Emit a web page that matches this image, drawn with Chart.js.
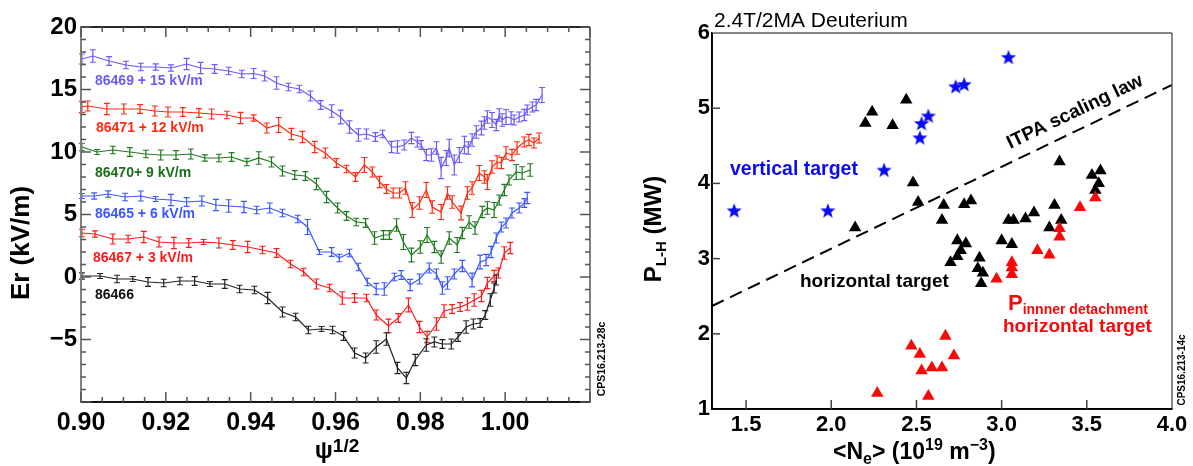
<!DOCTYPE html>
<html>
<head>
<meta charset="utf-8">
<script src="https://cdn.jsdelivr.net/npm/chart.js@4.4.1/dist/chart.umd.min.js"></script>
<style>
  body { margin: 0; background: #fff; width: 1193px; height: 466px; overflow: hidden; position: relative; }
  canvas { position: absolute; top: 0; }
  #left { left: 0; }
  #right { left: 610px; }
</style>
</head>
<body>
<canvas id="left" width="610" height="466"></canvas>
<canvas id="right" width="583" height="466"></canvas>
<script>
// ---- left panel: Er profiles (offset shots) ----
const psi_86469 = [0.9002,0.9028,0.9066,0.9106,0.9141,0.9176,0.9212,0.9249,0.9282,0.9315,0.9348,0.9379,0.9407,0.9433,0.9461,0.9489,0.9515,0.9541,0.9565,0.9591,
  0.9612,0.9633,0.9654,0.9673,0.9694,0.9711,0.9732,0.9746,0.9762,0.9779,0.9793,0.9802,0.9814,0.9826,0.9838,0.9849,0.9861,0.9868,0.9880,0.9892,
  0.9904,0.9913,0.9922,0.9932,0.9944,0.9951,0.9958,0.9969,0.9979,0.9986,0.9993,1.0002,1.0014,1.0021,1.0033,1.0045,1.0052,1.0064,1.0073,1.0087];
const er_86469 = [17.44,17.68,17.28,16.96,16.80,16.80,16.72,17.04,16.72,16.64,16.48,16.24,16.28,16.08,15.52,15.20,15.04,14.48,13.76,13.28,
  12.80,12.00,11.36,11.44,11.20,11.44,10.40,10.40,10.56,11.12,10.80,10.56,9.76,9.76,10.32,8.72,9.52,10.32,8.96,9.76,
  10.56,10.32,10.96,11.60,11.92,12.32,12.80,12.56,12.16,12.96,12.56,12.80,12.72,12.56,12.80,12.96,13.36,13.60,13.76,14.56];
const err_86469 = [0.4,0.5,0.35,0.3,0.3,0.25,0.25,0.45,0.45,0.35,0.3,0.3,0.4,0.4,0.5,0.3,0.3,0.4,0.35,0.5,
  0.55,0.5,0.5,0.4,0.35,0.3,0.45,0.5,0.4,0.45,0.4,0.35,0.45,0.5,0.5,0.85,0.6,0.7,0.8,0.6,
  0.7,0.5,0.5,0.5,0.55,0.5,0.5,0.6,0.45,0.5,0.5,0.6,0.5,0.4,0.4,0.45,0.4,0.4,0.45,0.6];

const psi_86471 = [0.9002,0.9016,0.9061,0.9101,0.9139,0.9174,0.9205,0.9240,0.9278,0.9308,0.9344,0.9376,0.9407,0.9438,0.9466,0.9496,0.9522,0.9551,0.9576,0.9602,
  0.9626,0.9647,0.9668,0.9687,0.9704,0.9720,0.9736,0.9751,0.9765,0.9781,0.9798,0.9814,0.9828,0.9849,0.9864,0.9875,0.9896,0.9911,0.9922,0.9939,
  0.9951,0.9958,0.9969,0.9981,0.9991,1.0002,1.0016,1.0028,1.0045,1.0056,1.0068,1.0080];
const er_86471 = [13.60,13.68,13.44,13.44,13.44,13.28,13.20,13.20,13.12,13.04,12.96,12.72,12.72,11.92,12.16,11.44,11.20,10.40,9.92,9.12,
  8.64,8.00,8.96,8.40,7.60,7.04,6.72,6.72,7.12,5.36,5.92,6.96,5.60,5.20,6.72,6.00,5.12,6.72,7.12,8.32,
  8.00,7.60,8.80,9.20,9.12,9.92,9.76,10.32,10.80,10.96,10.72,11.12];
const err_86471 = [0.45,0.4,0.45,0.4,0.35,0.4,0.4,0.35,0.35,0.4,0.3,0.45,0.25,0.4,0.6,0.45,0.45,0.45,0.4,0.35,
  0.3,0.35,0.6,0.4,0.45,0.35,0.4,0.4,0.5,0.6,0.5,0.6,0.5,0.6,0.5,0.5,0.55,0.5,0.5,0.6,
  0.5,0.6,0.5,0.5,0.45,0.5,0.45,0.5,0.4,0.45,0.4,0.4];

const psi_86470 = [0.9002,0.9038,0.9075,0.9115,0.9153,0.9188,0.9224,0.9259,0.9292,0.9325,0.9355,0.9391,0.9419,0.9449,0.9475,0.9504,0.9529,0.9555,0.9579,0.9605,
  0.9626,0.9649,0.9671,0.9692,0.9713,0.9727,0.9744,0.9760,0.9779,0.9800,0.9816,0.9833,0.9849,0.9868,0.9887,0.9899,0.9915,0.9929,0.9946,0.9958,
  0.9974,0.9986,0.9998,1.0009,1.0026,1.0040,1.0059];
const er_86470 = [10.40,10.00,10.16,10.00,9.84,9.76,9.76,9.84,9.52,9.52,9.60,9.20,9.52,9.20,8.48,8.16,8.08,7.44,6.40,5.52,
  4.88,4.40,4.32,3.12,3.36,3.36,4.16,2.80,1.76,2.40,3.36,2.40,1.60,3.12,2.56,3.52,4.40,3.92,5.20,5.52,
  5.36,6.16,6.96,7.76,8.40,8.32,8.56];
const err_86470 = [0.3,0.2,0.3,0.35,0.3,0.4,0.35,0.4,0.25,0.3,0.35,0.3,0.5,0.4,0.4,0.35,0.35,0.45,0.45,0.4,
  0.35,0.3,0.35,0.5,0.35,0.35,0.5,0.6,0.55,0.5,0.6,0.45,0.5,0.5,0.6,0.45,0.5,0.5,0.45,0.5,
  0.6,0.4,0.45,0.4,0.6,0.5,0.5];

const psi_86465 = [0.9002,0.9031,0.9064,0.9104,0.9141,0.9176,0.9212,0.9249,0.9285,0.9318,0.9348,0.9384,0.9414,0.9445,0.9475,0.9511,0.9534,0.9562,0.9591,0.9609,
  0.9633,0.9654,0.9675,0.9696,0.9715,0.9739,0.9755,0.9776,0.9798,0.9821,0.9838,0.9852,0.9864,0.9880,0.9899,0.9922,0.9941,0.9955,0.9967,0.9979,
  0.9991,1.0002,1.0016,1.0033,1.0045,1.0052];
const er_86465 = [6.48,6.48,6.64,6.40,6.48,6.24,6.16,6.00,6.08,5.76,5.68,5.60,5.36,5.52,5.12,4.64,4.00,2.00,2.00,1.52,
  1.92,0.80,-0.40,-0.96,-0.96,0.00,0.16,-0.64,-0.16,0.72,0.24,-0.88,-0.48,0.24,0.88,-0.24,1.20,1.36,2.00,3.12,
  4.00,4.32,5.12,5.52,5.92,6.32];
const err_86465 = [0.2,0.25,0.25,0.3,0.4,0.2,0.45,0.35,0.4,0.45,0.5,0.45,0.3,0.4,0.3,0.3,0.6,0.2,0.35,0.3,
  0.3,0.3,0.3,0.45,0.5,0.3,0.35,0.45,0.4,0.4,0.4,0.5,0.5,0.4,0.45,0.55,0.55,0.45,0.45,0.4,
  0.4,0.4,0.4,0.4,0.35,0.45];

const psi_86467 = [0.9002,0.9033,0.9075,0.9111,0.9148,0.9184,0.9219,0.9254,0.9289,0.9325,0.9358,0.9393,0.9428,0.9461,0.9494,0.9525,0.9555,0.9586,0.9616,0.9645,
  0.9673,0.9696,0.9725,0.9748,0.9772,0.9798,0.9816,0.9838,0.9856,0.9875,0.9894,0.9911,0.9927,0.9944,0.9958,0.9974,0.9984,0.9998,1.0012];
const er_86467 = [3.52,3.44,3.04,3.04,3.20,2.80,2.72,2.72,2.80,2.72,2.56,2.40,2.16,1.92,1.04,0.40,-0.56,-0.88,-1.68,-1.68,
  -1.68,-3.04,-3.92,-3.28,-2.24,-4.00,-4.80,-3.76,-2.72,-2.56,-2.40,-2.16,-1.84,-1.52,-0.48,0.08,0.32,1.92,2.32];
const err_86467 = [0.3,0.25,0.4,0.3,0.45,0.4,0.45,0.35,0.2,0.4,0.35,0.45,0.3,0.35,0.3,0.3,0.4,0.3,0.5,0.35,
  0.3,0.4,0.55,0.35,0.55,0.45,0.45,0.5,0.5,0.35,0.35,0.5,0.5,0.45,0.45,0.45,0.4,0.5,0.45];

const psi_86466 = [0.9002,0.9045,0.9085,0.9122,0.9158,0.9195,0.9233,0.9268,0.9304,0.9339,0.9374,0.9409,0.9440,0.9475,0.9506,0.9536,0.9567,0.9593,0.9619,0.9645,
  0.9671,0.9696,0.9720,0.9746,0.9767,0.9788,0.9814,0.9833,0.9852,0.9873,0.9889,0.9908,0.9925,0.9941,0.9953,0.9965,0.9974,0.9979];
const er_86466 = [0.08,0.08,-0.16,-0.16,-0.40,-0.48,-0.32,-0.32,-0.56,-0.56,-0.96,-1.04,-1.68,-2.80,-3.20,-4.24,-4.16,-4.24,-4.72,-6.08,
  -6.48,-5.60,-4.96,-7.28,-8.08,-6.64,-5.44,-5.20,-5.36,-5.36,-4.80,-4.00,-3.76,-3.68,-3.04,-1.84,-0.88,-0.24];
const err_86466 = [0.25,0.2,0.3,0.2,0.35,0.3,0.3,0.35,0.2,0.35,0.3,0.3,0.45,0.4,0.3,0.3,0.2,0.3,0.35,0.4,
  0.4,0.5,0.5,0.45,0.45,0.45,0.5,0.4,0.35,0.4,0.35,0.5,0.4,0.35,0.35,0.5,0.4,0.4];

const psiTicks = [0.90, 0.92, 0.94, 0.96, 0.98, 1.00];
const erTicks = [-5, 0, 5, 10, 15, 20];

// ---- right panel: L-H power threshold ----
const vertNe = [1.43, 1.98, 2.31, 2.52, 2.53, 2.57, 2.73, 2.78, 3.04];
const vertP  = [3.63, 3.63, 4.17, 4.60, 4.79, 4.89, 5.28, 5.31, 5.67];

const horizNe = [2.14,2.20,2.24,2.36,2.44,2.48,2.51,2.66,2.65,2.78,2.82,2.74,2.79,2.76,2.74,2.70,2.87,2.86,2.89,2.88,
  3.00,3.06,3.04,3.07,3.14,3.19,3.31,3.34,3.35,3.28,3.53,3.58,3.57,3.55];
const horizP  = [3.41,4.80,4.95,4.77,5.11,4.01,3.75,3.71,3.51,3.72,3.77,3.24,3.20,3.11,3.03,2.95,3.01,2.87,2.81,2.67,
  3.24,3.19,3.51,3.51,3.53,3.61,3.71,4.29,3.51,3.41,4.11,4.17,4.00,3.91];

const innerNe = [2.27,2.47,2.52,2.53,2.59,2.65,2.67,2.72,2.57,2.97,3.06,3.06,3.06,3.21,3.28,3.34,3.34,3.46,3.55];
const innerP  = [1.21,1.84,1.73,1.51,1.55,1.55,1.97,1.71,1.17,2.73,2.95,2.88,2.79,3.11,3.05,3.40,3.29,3.68,3.81];

const itpaNe = [1.3, 4.0];
const itpaP  = [2.37, 5.31];

const neTicks = [1.5, 2.0, 2.5, 3.0, 3.5, 4.0];
const pTicks = [1, 2, 3, 4, 5, 6];

const FONT = '"Liberation Sans", Arial, Helvetica, sans-serif';
const pts = (xs, ys) => xs.map((x, i) => ({ x, y: ys[i] }));

// draw a run of text pieces (sub/superscripts) starting at x, baseline y
function richWidth(ctx, parts) {
  let w = 0;
  parts.forEach(p => { ctx.font = p.font; w += ctx.measureText(p.t).width; });
  return w;
}
function drawRich(ctx, parts, x, y, color) {
  ctx.fillStyle = color;
  ctx.textBaseline = 'alphabetic';
  ctx.textAlign = 'left';
  parts.forEach(p => {
    ctx.font = p.font;
    ctx.fillText(p.t, x, y + (p.dy || 0));
    x += ctx.measureText(p.t).width;
  });
}

// thin filled rules (frame lines and tick marks)
function hRule(ctx, x1, x2, y, w, c) {
  ctx.fillStyle = c;
  ctx.fillRect(Math.min(x1, x2), y - w / 2, Math.abs(x2 - x1), w);
}
function vRule(ctx, x, y1, y2, w, c) {
  ctx.fillStyle = c;
  ctx.fillRect(x - w / 2, Math.min(y1, y2), w, Math.abs(y2 - y1));
}

// plot box taken from the scales themselves
function box(chart) {
  const xs = chart.scales.x, ys = chart.scales.y;
  return { left: xs.left, right: xs.right, top: ys.top, bottom: ys.bottom };
}

const errorBars = {
  id: 'errorBars',
  afterDatasetsDraw(chart) {
    const { ctx, scales: { x, y } } = chart;
    ctx.save();
    chart.data.datasets.forEach(ds => {
      if (!ds.errors) return;
      ctx.strokeStyle = ds.borderColor;
      ctx.lineWidth = 1.2;
      ds.data.forEach((p, i) => {
        const e = ds.errors[i];
        const px = x.getPixelForValue(p.x);
        const t = y.getPixelForValue(p.y + e), b = y.getPixelForValue(p.y - e);
        ctx.beginPath();
        ctx.moveTo(px, t); ctx.lineTo(px, b);
        ctx.moveTo(px - 3, t); ctx.lineTo(px + 3, t);
        ctx.moveTo(px - 3, b); ctx.lineTo(px + 3, b);
        ctx.stroke();
      });
    });
    ctx.restore();
  }
};

const leftDecor = {
  id: 'leftDecor',
  afterDatasetsDraw(chart) {
    const { ctx, scales: { x, y } } = chart;
    const a = box(chart);
    ctx.save();
    // frame
    hRule(ctx, a.left, a.right, a.top, 1.8, '#111');
    hRule(ctx, a.left, a.right, a.bottom, 1.8, '#111');
    vRule(ctx, a.left, a.top, a.bottom, 2, '#808080');
    vRule(ctx, a.right, a.top, a.bottom, 2, '#808080');
    // inward ticks
    for (let k = 0; k <= 24; k++) {
      const px = x.getPixelForValue(0.90 + k * 0.005);
      const len = k % 4 === 0 ? 10 : 5;
      vRule(ctx, px, a.bottom, a.bottom - len, 1.5, '#555');
      vRule(ctx, px, a.top, a.top + len, 1.5, '#555');
    }
    for (let v = -10; v <= 20; v++) {
      const py = y.getPixelForValue(v);
      const len = v % 5 === 0 ? 10 : 5;
      hRule(ctx, a.left, a.left + len, py, 1.5, '#555');
      hRule(ctx, a.right, a.right - len, py, 1.5, '#555');
    }
    // shot labels
    ctx.font = 'bold 14px ' + FONT;
    ctx.textBaseline = 'middle';
    ctx.textAlign = 'left';
    [['86469 + 15 kV/m', 95, 81, '#6a5af9'],
     ['86471 + 12 kV/m', 96, 128, '#ff2a10'],
     ['86470+ 9 kV/m', 95, 173, '#1a6e1a'],
     ['86465 + 6 kV/m', 95, 214, '#3a57ff'],
     ['86467 + 3 kV/m', 93, 258, '#ff1a1a'],
     ['86466', 95, 295, '#111']].forEach(([t, lx, ly, c]) => {
      ctx.fillStyle = c; ctx.fillText(t, lx, ly);
    });
    // axis titles
    ctx.save();
    ctx.translate(22, 243);
    ctx.rotate(-Math.PI / 2);
    ctx.font = 'bold 26px ' + FONT;
    ctx.fillStyle = '#000';
    ctx.textAlign = 'center';
    ctx.textBaseline = 'middle';
    ctx.fillText('Er (kV/m)', 0, 0);
    ctx.restore();
    const psiParts = [{ t: 'ψ', font: 'bold 24px ' + FONT }, { t: '1/2', font: 'bold 19px ' + FONT, dy: -6 }];
    const pw = richWidth(ctx, psiParts);
    drawRich(ctx, psiParts, 337 - pw / 2, 458, '#000');
    // figure id
    ctx.save();
    ctx.translate(602, 359);
    ctx.rotate(-Math.PI / 2);
    ctx.font = 'bold 10.5px ' + FONT;
    ctx.fillStyle = '#000';
    ctx.textAlign = 'center';
    ctx.textBaseline = 'middle';
    ctx.fillText('CPS16.213-28c', 0, 0);
    ctx.restore();
    ctx.restore();
  }
};

const leftSeries = [
  { x: psi_86469, y: er_86469, err: err_86469, color: '#6a5af9' },
  { x: psi_86471, y: er_86471, err: err_86471, color: '#ff2a10' },
  { x: psi_86470, y: er_86470, err: err_86470, color: '#1f7a1f' },
  { x: psi_86465, y: er_86465, err: err_86465, color: '#3a57ff' },
  { x: psi_86467, y: er_86467, err: err_86467, color: '#ff1a1a' },
  { x: psi_86466, y: er_86466, err: err_86466, color: '#222222' }
];

new Chart(document.getElementById('left'), {
  type: 'line',
  data: {
    datasets: leftSeries.map(s => ({
      data: pts(s.x, s.y),
      errors: s.err,
      borderColor: s.color,
      borderWidth: 1.2,
      pointRadius: 0,
      tension: 0,
      fill: false
    }))
  },
  options: {
    responsive: false,
    animation: false,
    layout: { padding: { top: 27, right: 20, left: 0, bottom: 0 } },
    plugins: { legend: { display: false }, tooltip: { enabled: false } },
    scales: {
      x: {
        type: 'linear', min: 0.90, max: 1.02,
        afterFit: s => { s.height = 64; },
        afterBuildTicks: s => { s.ticks = psiTicks.map(v => ({ value: v })); },
        grid: { display: false, drawTicks: false },
        border: { display: true, color: '#111', width: 1.5 },
        ticks: { color: '#000', padding: 6, maxRotation: 0, font: { family: FONT, size: 25, weight: 'bold' },
                 callback: v => v.toFixed(2) }
      },
      y: {
        type: 'linear', min: -10, max: 20,
        afterFit: s => { s.width = 81; },
        afterBuildTicks: s => { s.ticks = erTicks.map(v => ({ value: v })); },
        grid: { display: false, drawTicks: false },
        border: { display: true, color: '#808080', width: 2 },
        ticks: { color: '#000', padding: 4, font: { family: FONT, size: 24, weight: 'bold' },
                 callback: v => v < 0 ? '\u2212' + (-v) : String(v) }
      }
    }
  },
  plugins: [errorBars, leftDecor]
});

// ---- right chart ----
function makeStar(r, color) {
  const c = document.createElement('canvas');
  c.width = c.height = 2 * r + 2;
  const g = c.getContext('2d');
  g.fillStyle = color;
  g.beginPath();
  for (let i = 0; i < 10; i++) {
    const rad = i % 2 ? r * 0.42 : r;
    const ang = -Math.PI / 2 + i * Math.PI / 5;
    g.lineTo(r + 1 + rad * Math.cos(ang), r + 1 + rad * Math.sin(ang));
  }
  g.closePath();
  g.fill();
  return c;
}

const rightDecor = {
  id: 'rightDecor',
  afterDatasetsDraw(chart) {
    const { ctx, scales: { x, y } } = chart;
    const a = box(chart);
    ctx.save();
    hRule(ctx, a.left, a.right, a.top, 1.4, '#555');
    vRule(ctx, a.right, a.top, a.bottom, 1.4, '#555');
    vRule(ctx, a.left, a.top, a.bottom, 1.8, '#000');
    hRule(ctx, a.left, a.right, a.bottom, 1.8, '#000');
    neTicks.slice(0, -1).forEach(v => {
      vRule(ctx, x.getPixelForValue(v), a.bottom, a.bottom - 9, 1.5, '#444');
    });
    pTicks.slice(1, -1).forEach(v => {
      hRule(ctx, a.left, a.left + 8, y.getPixelForValue(v), 1.5, '#444');
    });
    // title
    ctx.fillStyle = '#000';
    ctx.font = '21px ' + FONT;
    ctx.textAlign = 'left';
    ctx.textBaseline = 'alphabetic';
    ctx.fillText('2.4T/2MA Deuterium', 104, 27);
    // labels in plot
    ctx.textBaseline = 'middle';
    ctx.font = 'bold 19.5px ' + FONT;
    ctx.fillStyle = '#0a0af5';
    ctx.fillText('vertical target', 120, 170);
    ctx.fillStyle = '#000';
    ctx.font = 'bold 19px ' + FONT;
    ctx.fillText('horizontal target', 190, 282);
    ctx.fillStyle = '#f50a0a';
    ctx.fillText('horizontal target', 393, 327);
    drawRich(ctx, [{ t: 'P', font: 'bold 22px ' + FONT }, { t: 'innner detachment', font: 'bold 14px ' + FONT, dy: 4 }], 398, 310, '#f50a0a');
    // ITPA label
    ctx.save();
    ctx.translate(465, 112);
    ctx.rotate(-25.7 * Math.PI / 180);
    ctx.font = 'bold 19px ' + FONT;
    ctx.fillStyle = '#000';
    ctx.textAlign = 'center';
    ctx.textBaseline = 'middle';
    ctx.fillText('ITPA scaling law', 0, 0);
    ctx.restore();
    // axis titles
    ctx.save();
    ctx.translate(43, 229);
    ctx.rotate(-Math.PI / 2);
    const yParts = [{ t: 'P', font: 'bold 24px ' + FONT }, { t: 'L-H', font: 'bold 15px ' + FONT, dy: 5 }, { t: ' (MW)', font: 'bold 24px ' + FONT }];
    drawRich(ctx, yParts, -richWidth(ctx, yParts) / 2, 8, '#000');
    ctx.restore();
    const xParts = [
      { t: '<N', font: 'bold 23px ' + FONT },
      { t: 'e', font: 'bold 16px ' + FONT, dy: 5 },
      { t: '> (10', font: 'bold 23px ' + FONT },
      { t: '19', font: 'bold 16px ' + FONT, dy: -9 },
      { t: ' m', font: 'bold 23px ' + FONT },
      { t: '\u22123', font: 'bold 16px ' + FONT, dy: -9 },
      { t: ')', font: 'bold 23px ' + FONT }
    ];
    drawRich(ctx, xParts, 223, 459, '#000');
    // figure id
    ctx.save();
    ctx.translate(572, 370);
    ctx.rotate(-Math.PI / 2);
    ctx.font = 'bold 10px ' + FONT;
    ctx.fillStyle = '#000';
    ctx.textAlign = 'center';
    ctx.textBaseline = 'middle';
    ctx.fillText('CPS16.213-14c', 0, 0);
    ctx.restore();
    ctx.restore();
  }
};

new Chart(document.getElementById('right'), {
  type: 'scatter',
  data: {
    datasets: [
      { data: pts(vertNe, vertP), pointStyle: makeStar(8, '#0a0af5'), pointRadius: 8 },
      { data: pts(innerNe, innerP), pointStyle: 'triangle', pointRadius: 7.2, backgroundColor: '#f50a0a', borderColor: '#f50a0a', borderWidth: 0 },
      { data: pts(horizNe, horizP), pointStyle: 'triangle', pointRadius: 7.2, backgroundColor: '#000', borderColor: '#000', borderWidth: 0 },
      { type: 'line', data: pts(itpaNe, itpaP), borderColor: '#000', borderWidth: 2, borderDash: [13, 7], pointRadius: 0, fill: false }
    ]
  },
  options: {
    responsive: false,
    animation: false,
    layout: { padding: { top: 33, right: 21, left: 0, bottom: 0 } },
    plugins: { legend: { display: false }, tooltip: { enabled: false } },
    scales: {
      x: {
        type: 'linear', min: 1.3, max: 4.0,
        afterFit: s => { s.height = 57; },
        afterBuildTicks: s => { s.ticks = neTicks.map(v => ({ value: v })); },
        grid: { display: false, drawTicks: false },
        border: { display: true, color: '#000', width: 1.5 },
        ticks: { color: '#000', padding: 3, maxRotation: 0, font: { family: FONT, size: 22, weight: 'bold' },
                 callback: v => v.toFixed(1) }
      },
      y: {
        type: 'linear', min: 1, max: 6,
        afterFit: s => { s.width = 102; },
        afterBuildTicks: s => { s.ticks = pTicks.map(v => ({ value: v })); },
        grid: { display: false, drawTicks: false },
        border: { display: true, color: '#000', width: 1.5 },
        ticks: { color: '#000', padding: 2, font: { family: FONT, size: 22, weight: 'bold' } }
      }
    }
  },
  plugins: [rightDecor]
});
</script>
</body>
</html>
